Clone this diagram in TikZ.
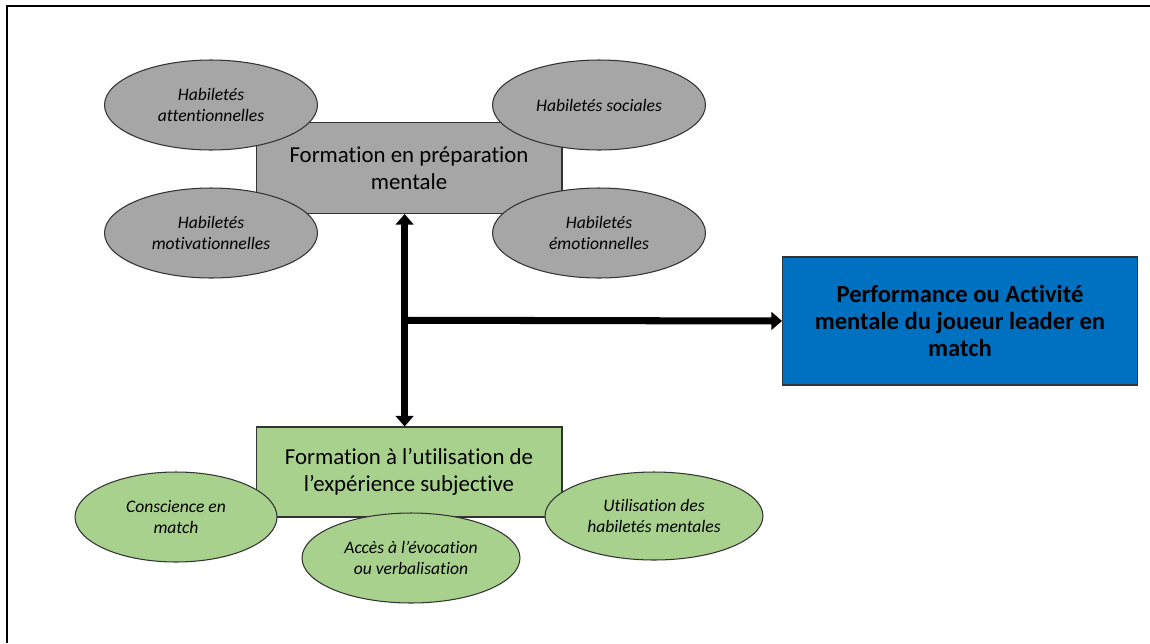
\documentclass[tikz,border=0pt]{standalone}
\usepackage{fontspec}
\setmainfont{Carlito}[RawFeature=-liga]
\usetikzlibrary{arrows.meta,calc,shapes.geometric}

\definecolor{prepgrey}{HTML}{A6A6A6}
\definecolor{subjgreen}{HTML}{A9D18E}
\definecolor{perfblue}{HTML}{0070C0}

\begin{document}
\begin{tikzpicture}[x=0.02cm,y=-0.02cm,
    mainbox/.style={draw=black!80,line width=0.6pt,minimum width=6.12cm,minimum height=1.82cm,
      align=center,font=\fontsize{13}{15.5}\selectfont},
    skill/.style={ellipse,draw=black!80,line width=0.6pt,minimum width=4.26cm,minimum height=1.8cm,
      inner sep=0pt,align=center,font=\fontsize{10}{12.3}\selectfont\itshape},
    bigarrow/.style={line width=4pt,-{Triangle[width=10pt,length=6pt]}}]
        \useasboundingbox (0,0) rectangle (1150,643);
        \draw[line width=1.1pt] (7,643) -- (7,6) -- (1150,6);
        % boxes
        \node[mainbox,fill=prepgrey] (prep) at (409,168) {Formation en préparation\\mentale};
        \node[mainbox,fill=subjgreen,minimum height=1.8cm] (subj) at (409,472) {Formation à l’utilisation de\\l’expérience subjective};
        \node[draw=black!80,line width=0.6pt,fill=perfblue,minimum width=7.1cm,minimum height=2.56cm,align=center,
          font=\fontsize{14}{15.5}\selectfont\bfseries] (perf) at (960,321) {Performance ou Activité\\mentale du joueur leader en\\match};
        % ellipses
        \node[skill,fill=prepgrey] (attn) at (211,105) {Habiletés\\attentionnelles};
        \node[skill,fill=prepgrey] (motiv) at (211,233) {Habiletés\\motivationnelles};
        \node[skill,fill=prepgrey] (soc) at (599,105) {Habiletés sociales};
        \node[skill,fill=prepgrey] (emo) at (599,233) {Habiletés\\émotionnelles};
        \node[skill,fill=subjgreen,minimum width=4.04cm] (consc) at (176,517) {Conscience en\\match};
        \node[skill,fill=subjgreen,minimum width=4.36cm] (evoc) at (411,558) {Accès à l’évocation\\ou verbalisation};
        \node[skill,fill=subjgreen,minimum width=4.36cm,minimum height=1.76cm] (util) at (654,516) {Utilisation des\\habiletés mentales};
        % arrows
        \coordinate (junc) at ($(prep.south)!0.5!(subj.north)$);
        \draw[bigarrow,{Triangle[width=10pt,length=6pt]}-{Triangle[width=10pt,length=6pt]}] ([xshift=-2.5pt]prep.south) -- ([xshift=-2.5pt]subj.north);
        \draw[bigarrow] ([xshift=-2.5pt]junc) -- (perf.west);
    \end{tikzpicture}
\end{document}
